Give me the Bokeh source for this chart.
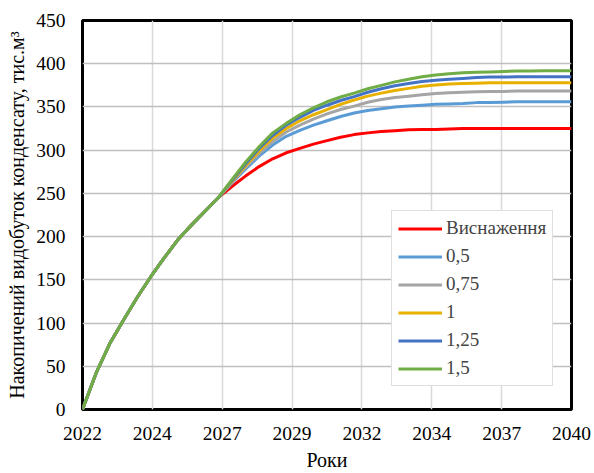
from bokeh.plotting import figure
from bokeh.models import FixedTicker, CustomJSTickFormatter, Legend, LegendItem
from bokeh.embed import file_html
from bokeh.resources import INLINE

# ---- data ----
years = [2022.0, 2022.5, 2023.0, 2023.5, 2024.0, 2024.5, 2025.0, 2025.5, 2026.0, 2026.5,
         2027.0, 2027.5, 2028.0, 2028.5, 2029.0, 2029.5, 2030.0, 2030.5, 2031.0, 2031.5,
         2032.0, 2032.5, 2033.0, 2033.5, 2034.0, 2034.5, 2035.0, 2035.5, 2036.0, 2036.5,
         2037.0, 2037.5, 2038.0, 2038.5, 2039.0, 2039.5, 2040.0]

common = [0, 42, 76, 103, 129, 153, 175, 196, 213, 229, 245]

depletion = common + [258, 270, 281, 290, 297, 302, 307, 311, 315, 318, 320, 321.5, 322.5,
                      323.5, 324, 324, 324.5, 325, 325, 325, 325, 325, 325, 325, 325, 325]
s_050 = common + [262, 278, 293, 306, 316, 323, 329, 334, 339, 343, 346, 348, 350,
                  351, 352, 353, 353.5, 354, 355, 355, 355.5, 356, 356, 356, 356, 356]
s_075 = common + [263, 280, 296, 310, 321, 329, 336, 342, 347, 351, 355.5, 358.5, 361,
                  362.5, 364, 365.5, 366.5, 367, 367.5, 368, 368, 368.5, 368.5, 368.5, 368.5, 368.5]
s_100 = common + [264, 282, 299, 314, 325, 334, 341, 347, 353, 358, 362.5, 366, 369,
                  371.5, 374, 375.5, 376.5, 377, 377.5, 378, 378, 378, 378, 378, 378, 378]
s_125 = common + [265, 284, 302, 317, 329, 338, 346, 352, 357.5, 362, 367, 371, 374.5,
                  377, 379.5, 381, 382, 383, 384, 384.5, 384.5, 385, 385, 385, 385, 385]
s_150 = common + [266, 286, 304, 320, 331, 341, 349, 356, 361.5, 366, 371, 375, 379,
                  382, 385, 387, 388.5, 389.5, 390, 390.5, 391, 391.5, 391.5, 392, 392, 392]

series_names = ["Виснаження", "0,5", "0,75", "1", "1,25", "1,5"]
series_values = [depletion, s_050, s_075, s_100, s_125, s_150]
series_colors = ["#ff0000", "#5b9bd5", "#a5a5a5", "#e8b100", "#4472c4", "#70ad47"]

xtick_pos = [2022.0, 2024.5714, 2027.1429, 2029.7143, 2032.2857, 2034.8571, 2037.4286, 2040.0]
xtick_labels = ["2022", "2024", "2027", "2029", "2032", "2034", "2037", "2040"]
ytick_pos = [0, 50, 100, 150, 200, 250, 300, 350, 400, 450]

FONT = "Liberation Serif"
TICK_FS = "19.5px"
TITLE_FS = "20px"
LEG_FS = "19px"

p = figure(width=594, height=473, x_range=(2022, 2040), y_range=(0, 450),
           output_backend="svg", toolbar_location=None,
           min_border_left=82, min_border_right=23, min_border_top=20, min_border_bottom=62)

p.background_fill_color = "white"
p.border_fill_color = "white"
p.outline_line_color = "black"
p.outline_line_width = 3

items = []
for name, vals, col in zip(series_names, series_values, series_colors):
    r = p.line(years, vals, line_color=col, line_width=3)
    items.append(LegendItem(label=name, renderers=[r]))

p.xaxis.ticker = FixedTicker(ticks=xtick_pos)
p.xaxis.formatter = CustomJSTickFormatter(args=dict(pos=xtick_pos, labels=xtick_labels), code="""
let best = 0;
for (let i = 0; i < pos.length; i++) {
  if (Math.abs(pos[i] - tick) < Math.abs(pos[best] - tick)) best = i;
}
return labels[best];
""")
p.yaxis.ticker = FixedTicker(ticks=ytick_pos)

for ax in (p.xaxis[0], p.yaxis[0]):
    ax.axis_line_color = None
    ax.major_tick_line_color = None
    ax.minor_tick_line_color = None
    ax.major_tick_out = 0
    ax.major_tick_in = 0
    ax.minor_tick_out = 0
    ax.minor_tick_in = 0
    ax.major_label_text_font = FONT
    ax.major_label_text_font_size = TICK_FS
    ax.major_label_text_color = "black"
    ax.axis_label_text_font = FONT
    ax.axis_label_text_font_size = TITLE_FS
    ax.axis_label_text_font_style = "normal"
    ax.axis_label_text_color = "black"

p.xaxis.axis_label = "Роки"
p.yaxis.axis_label = "Накопичений видобуток конденсату, тис.м³"
p.xaxis.major_label_standoff = 17
p.xaxis.axis_label_standoff = 6
p.yaxis.major_label_standoff = 17
p.yaxis.axis_label_standoff = 5

p.xgrid.grid_line_color = "#d9d9d9"
p.xgrid.grid_line_width = 1.5
p.ygrid.grid_line_color = "#bfbfbf"
p.ygrid.grid_line_width = 1.5

legend = Legend(items=items, location=(309, 23), margin=0, padding=6, spacing=6,
                glyph_width=44, glyph_height=21, label_height=21, label_standoff=4,
                label_text_font=FONT, label_text_font_size=LEG_FS,
                border_line_color="#bfbfbf", border_line_width=1,
                background_fill_color="white", background_fill_alpha=1)
p.add_layout(legend)

open("out.html", "w").write(file_html(p, INLINE))
